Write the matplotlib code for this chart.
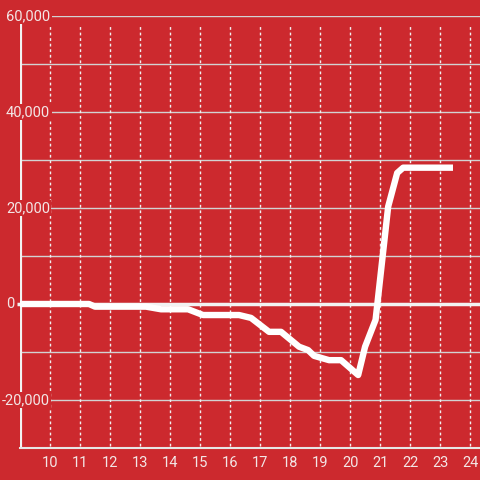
import matplotlib.pyplot as plt
import matplotlib.transforms as mtransforms

# hours of the day vs running value
hours = [9.0, 11.3, 11.5, 13.2, 13.7, 14.6, 15.1, 16.3, 16.7, 17.3, 17.7,
         18.3, 18.6, 18.8, 19.3, 19.7, 20.27, 20.5, 20.85, 21.27, 21.57, 21.77, 23.43]
values = [0, 0, -550, -550, -1100, -1100, -2300, -2300, -2900, -5800, -5800,
          -8900, -9600, -10800, -11700, -11700, -14800, -8900, -3300, 20300, 27300, 28400, 28400]

xticks = list(range(10, 25))
yticks = [-20000, 0, 20000, 40000, 60000]
ygrid = list(range(-20000, 60001, 10000))

bg = '#cc292e'
txt = '#f3e6e6'

plt.rcParams['font.family'] = ['Roboto', 'DejaVu Sans']

fig = plt.figure(figsize=(4.8, 4.8), dpi=100)
fig.patch.set_facecolor(bg)
ax = fig.add_axes([20 / 480, 32 / 480, 460 / 480, 432 / 480])
ax.set_facecolor(bg)
ax.set_xlim(9, 24.33)
ax.set_ylim(-30000, 60000)

for s in ['top', 'right', 'left']:
    ax.spines[s].set_visible(False)
ax.spines['bottom'].set_color('#e6e6e6')
ax.spines['bottom'].set_linewidth(1.5)

# grid
ax.hlines(ygrid, 9, 24.33, colors='#d2d2d2', linewidth=1, zorder=1)
ax.vlines(xticks, -29600, 58400, colors='#f0f0f0', linewidth=1,
          linestyles=(0, (2, 2)), zorder=1)
ax.hlines(0, 8.9, 24.33, colors='#f2f2f2', linewidth=2.5, zorder=2, clip_on=False)
ax.axvline(9, color='#f2f2f2', linewidth=3, zorder=2)

ax.plot(hours, values, color='white', linewidth=4.6,
        solid_capstyle='butt', solid_joinstyle='round', zorder=3)

ax.set_xticks(xticks)
ax.set_xticklabels([str(t) for t in xticks])
ax.tick_params(axis='x', length=0, pad=6, colors=txt, labelsize=10.5)
ax.set_yticks([])

trans = mtransforms.blended_transform_factory(ax.transAxes, ax.transData)
for v in yticks:
    x0 = -14 / 460 if v >= 0 else -18 / 460
    lab = f'{v:,}'.replace('-', '\u2010') if v < 0 else f'{v:,}'
    ax.text(x0, v, f'{v:,}', transform=trans, ha='left', va='center',
            color=txt, fontsize=10.5, zorder=5, clip_on=False,
            bbox=dict(facecolor=bg, edgecolor='none', pad=1))

fig.savefig('out.png', dpi=100, facecolor=bg)
